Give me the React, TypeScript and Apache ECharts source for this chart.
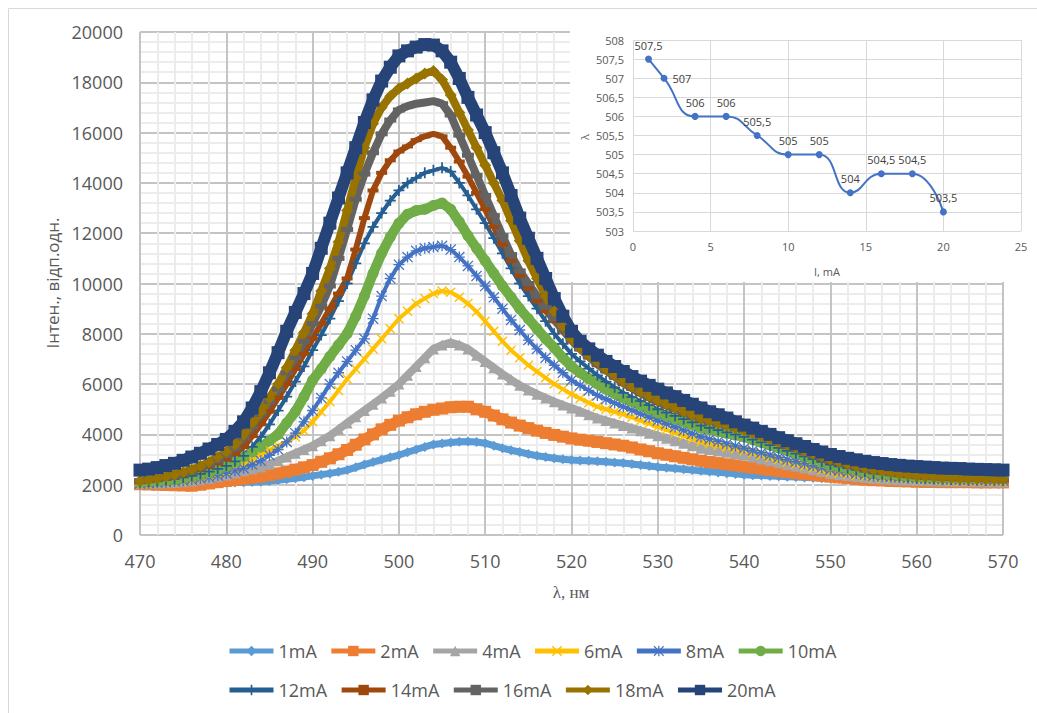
import React, { useEffect, useRef } from "react";
import * as echarts from "echarts";

const wavelengths = [
  470, 471, 472, 473, 474, 475, 476, 477, 478, 479, 480, 481, 482, 483, 484, 485, 486, 487, 488, 489,
  490, 491, 492, 493, 494, 495, 496, 497, 498, 499, 500, 501, 502, 503, 504, 505, 506, 507, 508, 509,
  510, 511, 512, 513, 514, 515, 516, 517, 518, 519, 520, 521, 522, 523, 524, 525, 526, 527, 528, 529,
  530, 531, 532, 533, 534, 535, 536, 537, 538, 539, 540, 541, 542, 543, 544, 545, 546, 547, 548, 549,
  550, 551, 552, 553, 554, 555, 556, 557, 558, 559, 560, 561, 562, 563, 564, 565, 566, 567, 568, 569, 570,
];

const i1mA = [
  2000, 2000, 2000, 2000, 2010, 2020, 2030, 2040, 2050, 2060, 2080, 2090, 2100, 2110, 2120, 2150, 2180, 2220, 2260, 2300,
  2350, 2400, 2450, 2510, 2580, 2690, 2800, 2900, 3000, 3090, 3180, 3290, 3400, 3500, 3600, 3640, 3680, 3710, 3720, 3700,
  3650, 3550, 3450, 3370, 3300, 3220, 3150, 3100, 3050, 3010, 2980, 2960, 2950, 2930, 2910, 2880, 2860, 2820, 2780, 2740,
  2700, 2670, 2640, 2610, 2580, 2550, 2520, 2490, 2460, 2430, 2400, 2380, 2370, 2350, 2340, 2320, 2310, 2290, 2280, 2260,
  2250, 2230, 2210, 2190, 2170, 2150, 2140, 2130, 2120, 2110, 2100, 2090, 2090, 2080, 2080, 2070, 2060, 2060, 2050, 2050, 2050,
];
const i2mA = [
  2020, 2010, 2000, 1990, 1980, 1970, 1960, 2000, 2050, 2100, 2150, 2190, 2230, 2280, 2320, 2380, 2450, 2520, 2600, 2690,
  2780, 2910, 3050, 3210, 3380, 3590, 3800, 4000, 4200, 4380, 4550, 4680, 4800, 4900, 4980, 5030, 5080, 5100, 5100, 5000,
  4900, 4750, 4600, 4470, 4350, 4250, 4150, 4060, 3980, 3910, 3840, 3790, 3750, 3700, 3650, 3600, 3550, 3480, 3400, 3330,
  3250, 3190, 3130, 3070, 3010, 2950, 2900, 2860, 2810, 2770, 2720, 2680, 2630, 2590, 2540, 2500, 2460, 2430, 2390, 2360,
  2320, 2290, 2260, 2230, 2200, 2180, 2170, 2150, 2140, 2130, 2120, 2110, 2110, 2100, 2100, 2100, 2100, 2090, 2090, 2090, 2090,
];
const i4mA = [
  2050, 2055, 2060, 2075, 2090, 2120, 2150, 2200, 2250, 2320, 2390, 2470, 2550, 2620, 2700, 2820, 2950, 3100, 3250, 3400,
  3550, 3750, 3950, 4200, 4450, 4700, 4950, 5200, 5450, 5720, 6000, 6350, 6700, 7050, 7400, 7550, 7650, 7550, 7400, 7150,
  6900, 6650, 6400, 6170, 5950, 5770, 5600, 5450, 5300, 5170, 5050, 4920, 4780, 4650, 4550, 4450, 4350, 4250, 4150, 4050,
  3950, 3850, 3750, 3650, 3550, 3450, 3400, 3340, 3290, 3230, 3180, 3100, 3020, 2950, 2870, 2800, 2730, 2660, 2590, 2520,
  2450, 2410, 2370, 2330, 2290, 2250, 2230, 2210, 2190, 2180, 2170, 2160, 2150, 2140, 2140, 2130, 2130, 2120, 2120, 2110, 2110,
];
const i6mA = [
  2050, 2060, 2070, 2080, 2100, 2140, 2180, 2240, 2320, 2410, 2520, 2650, 2800, 3000, 3200, 3380, 3550, 3720, 3900, 4150,
  4500, 4900, 5300, 5750, 6200, 6600, 7000, 7400, 7800, 8200, 8600, 8900, 9200, 9400, 9600, 9700, 9650, 9450, 9200, 8880,
  8500, 8100, 7700, 7350, 7050, 6750, 6500, 6250, 6000, 5800, 5600, 5430, 5260, 5100, 5000, 4900, 4800, 4680, 4550, 4430,
  4300, 4180, 4060, 3940, 3820, 3700, 3630, 3560, 3490, 3420, 3350, 3260, 3170, 3080, 2990, 2900, 2820, 2740, 2660, 2580,
  2500, 2460, 2420, 2380, 2340, 2300, 2280, 2260, 2240, 2220, 2200, 2190, 2180, 2170, 2160, 2150, 2150, 2140, 2140, 2130, 2130,
];
const i8mA = [
  2050, 2060, 2080, 2100, 2130, 2160, 2200, 2250, 2300, 2370, 2450, 2550, 2650, 2800, 2950, 3170, 3400, 3700, 4050, 4500,
  4950, 5450, 6000, 6450, 6900, 7350, 7800, 8600, 9500, 10200, 10750, 11050, 11300, 11400, 11450, 11500, 11350, 11050, 10700, 10300,
  9900, 9450, 9000, 8550, 8150, 7750, 7400, 7050, 6750, 6450, 6150, 5950, 5750, 5550, 5400, 5250, 5100, 4960, 4820, 4680,
  4550, 4420, 4290, 4160, 4030, 3900, 3810, 3720, 3630, 3540, 3450, 3360, 3270, 3180, 3090, 3000, 2920, 2840, 2760, 2680,
  2600, 2550, 2500, 2450, 2400, 2350, 2330, 2310, 2290, 2270, 2250, 2240, 2230, 2220, 2210, 2200, 2190, 2190, 2180, 2180, 2170,
];
const i10mA = [
  2100, 2110, 2130, 2160, 2200, 2250, 2320, 2390, 2480, 2590, 2720, 2900, 3100, 3300, 3500, 3750, 4000, 4450, 4900, 5500,
  6150, 6600, 7100, 7550, 8000, 8700, 9500, 10400, 11200, 11850, 12400, 12750, 12900, 12950, 13100, 13200, 12950, 12450, 11900, 11400,
  10900, 10400, 9900, 9450, 9000, 8600, 8200, 7800, 7450, 7050, 6700, 6450, 6220, 6000, 5800, 5620, 5450, 5300, 5150, 5000,
  4850, 4730, 4610, 4490, 4370, 4250, 4180, 4110, 4040, 3970, 3900, 3790, 3680, 3570, 3460, 3350, 3230, 3110, 2990, 2870,
  2750, 2690, 2630, 2570, 2510, 2450, 2420, 2390, 2360, 2330, 2300, 2290, 2280, 2270, 2260, 2250, 2250, 2250, 2250, 2250, 2250,
];
const i12mA = [
  2100, 2120, 2150, 2190, 2230, 2290, 2350, 2430, 2520, 2630, 2750, 2930, 3150, 3500, 3900, 4400, 4950, 5500, 6100, 6700,
  7350, 7950, 8600, 9300, 10000, 10800, 11600, 12250, 12800, 13300, 13700, 14000, 14200, 14400, 14500, 14600, 14450, 14000, 13500, 12950,
  12400, 11800, 11200, 10600, 10000, 9500, 9000, 8500, 8000, 7600, 7200, 6900, 6620, 6350, 6100, 5870, 5650, 5480, 5320, 5160,
  5000, 4870, 4740, 4610, 4480, 4350, 4260, 4170, 4080, 3990, 3900, 3790, 3680, 3570, 3460, 3350, 3240, 3130, 3020, 2910,
  2800, 2730, 2660, 2590, 2520, 2450, 2420, 2380, 2350, 2310, 2280, 2260, 2240, 2230, 2210, 2200, 2190, 2190, 2180, 2180, 2170,
];
const i14mA = [
  2100, 2140, 2180, 2240, 2300, 2380, 2480, 2580, 2700, 2840, 3000, 3230, 3500, 3930, 4400, 4900, 5450, 6000, 6600, 7200,
  7800, 8400, 9000, 9600, 10200, 11350, 12600, 13700, 14400, 14900, 15250, 15450, 15700, 15850, 15950, 15850, 15400, 14850, 14250, 13600,
  12950, 12250, 11550, 10900, 10300, 9800, 9300, 8900, 8500, 8100, 7700, 7380, 7050, 6750, 6500, 6250, 6000, 5800, 5600, 5420,
  5250, 5110, 4970, 4830, 4690, 4550, 4470, 4390, 4310, 4230, 4150, 4020, 3890, 3760, 3630, 3500, 3380, 3260, 3140, 3020,
  2900, 2820, 2740, 2660, 2580, 2500, 2460, 2420, 2380, 2340, 2300, 2280, 2270, 2250, 2240, 2220, 2210, 2200, 2190, 2190, 2180,
];
const i16mA = [
  2150, 2180, 2220, 2280, 2350, 2430, 2520, 2640, 2780, 2950, 3150, 3450, 3850, 4300, 4800, 5300, 5800, 6450, 7050, 7700,
  8400, 9100, 9900, 11000, 12150, 13350, 14350, 15200, 15950, 16500, 16900, 17050, 17150, 17200, 17250, 17150, 16700, 15900, 15100, 14300,
  13500, 12700, 11900, 11150, 10500, 10000, 9500, 9050, 8600, 8150, 7750, 7400, 7100, 6800, 6550, 6300, 6050, 5850, 5650, 5470,
  5300, 5160, 5020, 4880, 4740, 4600, 4510, 4420, 4330, 4240, 4150, 4030, 3910, 3790, 3670, 3550, 3430, 3310, 3190, 3070,
  2950, 2860, 2780, 2700, 2620, 2550, 2490, 2440, 2400, 2360, 2320, 2300, 2280, 2260, 2240, 2230, 2220, 2210, 2200, 2190, 2180,
];
const i18mA = [
  2150, 2190, 2250, 2320, 2400, 2500, 2600, 2750, 2900, 3100, 3300, 3600, 4000, 4450, 4900, 5450, 6000, 6650, 7350, 8050,
  8800, 9700, 10600, 11650, 12900, 14200, 15400, 16350, 17000, 17450, 17750, 17950, 18150, 18350, 18450, 18100, 17500, 16800, 16100, 15400,
  14700, 14000, 13300, 12500, 11700, 10900, 10200, 9500, 8900, 8300, 7800, 7450, 7150, 6900, 6600, 6350, 6100, 5900, 5700, 5520,
  5350, 5200, 5060, 4920, 4780, 4650, 4550, 4450, 4350, 4250, 4150, 4050, 3930, 3820, 3700, 3600, 3480, 3350, 3230, 3120,
  3000, 2900, 2820, 2740, 2670, 2600, 2540, 2490, 2440, 2400, 2350, 2330, 2310, 2290, 2270, 2250, 2240, 2230, 2220, 2210, 2200,
];
const i20mA = [
  2580, 2620, 2680, 2760, 2850, 2970, 3100, 3250, 3420, 3600, 3800, 4120, 4500, 5050, 5700, 6450, 7250, 8100, 8850, 9600,
  10400, 11400, 12400, 13400, 14400, 15400, 16400, 17300, 18050, 18600, 19050, 19250, 19400, 19500, 19480, 19250, 18800, 18150, 17400, 16700,
  16000, 15200, 14400, 13500, 12600, 11800, 11000, 10200, 9400, 8700, 8100, 7700, 7400, 7150, 6900, 6700, 6500, 6300, 6120, 5950,
  5800, 5650, 5500, 5350, 5200, 5050, 4900, 4780, 4650, 4500, 4370, 4250, 4120, 4000, 3870, 3750, 3630, 3520, 3400, 3300,
  3200, 3120, 3050, 2990, 2930, 2880, 2840, 2800, 2770, 2740, 2720, 2700, 2680, 2660, 2650, 2640, 2620, 2610, 2600, 2590, 2580,
];

const seriesNames = ["1mA", "2mA", "4mA", "6mA", "8mA", "10mA", "12mA", "14mA", "16mA", "18mA", "20mA"];
const seriesValues = [i1mA, i2mA, i4mA, i6mA, i8mA, i10mA, i12mA, i14mA, i16mA, i18mA, i20mA];
const seriesColors = [
  "#5B9BD5", "#ED7D31", "#A5A5A5", "#FFC000", "#4472C4", "#70AD47",
  "#255E91", "#9E480E", "#636363", "#997300", "#264478",
];

const insetCurrent = [1, 2, 4, 6, 8, 10, 12, 14, 16, 18, 20];
const insetPeak = [507.5, 507, 506, 506, 505.5, 505, 505, 504, 504.5, 504.5, 503.5];

const X_PATH = "path://M0,1L1,0L5,4L9,0L10,1L6,5L10,9L9,10L5,6L1,10L0,9L4,5Z";
const PLUS_PATH = "path://M4.2,0H5.8V4.2H10V5.8H5.8V10H4.2V5.8H0V4.2H4.2Z";
const STAR_PATH =
  "path://M4.4,0H5.6V4.4H10V5.6H5.6V10H4.4V5.6H0V4.4H4.4Z M0.8,0L5,4.2L9.2,0L10,0.8L5.8,5L10,9.2L9.2,10L5,5.8L0.8,10L0,9.2L4.2,5L0,0.8Z";
const DASH_PATH = "path://M0,0H10V3H0Z";

const markerStyles: any[] = [
  { symbol: "diamond", size: 10, lw: 7 },
  { symbol: "rect", size: 12, lw: 11 },
  { symbol: "triangle", size: 11, lw: 8 },
  { symbol: X_PATH, size: 10, lw: 4 },
  { symbol: STAR_PATH, size: 11, lw: 4 },
  { symbol: "circle", size: 11, lw: 10 },
  { symbol: PLUS_PATH, size: 11, lw: 4 },
  { symbol: DASH_PATH, size: [11, 4], lw: 6 },
  { symbol: DASH_PATH, size: [12, 5], lw: 8 },
  { symbol: "diamond", size: 12, lw: 8 },
  { symbol: "rect", size: 13, lw: 12 },
];

const FONT = "Open Sans";
const comma = (v: number) => String(v).replace(".", ",");

export default function App() {
  const ref = useRef<HTMLDivElement>(null);
  useEffect(() => {
    if (!ref.current) return;
    const chart = echarts.init(ref.current, undefined, { renderer: "svg" });

    const mainSeries = seriesNames.map((name, k) => ({
      name,
      type: "line",
      xAxisIndex: 0,
      yAxisIndex: 0,
      data: wavelengths.map((w, i) => [w, seriesValues[k][i]]),
      symbol: markerStyles[k].symbol,
      symbolSize: markerStyles[k].size,
      showSymbol: true,
      lineStyle: { color: seriesColors[k], width: markerStyles[k].lw },
      itemStyle: { color: seriesColors[k], borderWidth: 0 },
      emphasis: { disabled: true },
      silent: true,
      z: 2,
    }));

    const legendCommon = {
      left: 222,
      itemWidth: 44,
      itemHeight: 13,
      itemGap: 12,
      textStyle: { fontSize: 18, color: "#595959", fontFamily: FONT },
      lineStyle: { width: 5 },
      selectedMode: false,
    };

    chart.setOption({
      animation: false,
      backgroundColor: "#ffffff",
      textStyle: { fontFamily: FONT },
      grid: [
        { left: 140, top: 32, width: 863, height: 503 },
        { left: 633, top: 40, width: 388, height: 191 },
      ],
      xAxis: [
        {
          type: "value",
          gridIndex: 0,
          min: 470,
          max: 570,
          interval: 10,
          axisLine: { show: false },
          axisTick: { show: false },
          axisLabel: {
            fontSize: 18,
            color: "#595959",
            margin: 17,
            fontFamily: FONT,
            formatter: (v: number) => String(v),
          },
          splitLine: { show: true, lineStyle: { color: "#c4c4c4", width: 2 } },
          minorTick: { show: false, splitNumber: 5 },
          minorSplitLine: { show: true, lineStyle: { color: "#ececec", width: 2 } },
        },
        {
          type: "value",
          gridIndex: 1,
          min: 0,
          max: 25,
          interval: 5,
          axisLine: { show: false },
          axisTick: { show: false },
          axisLabel: { fontSize: 11, color: "#595959", margin: 10, fontFamily: FONT },
          splitLine: { show: true, lineStyle: { color: "#d9d9d9", width: 1 } },
          z: 6,
        },
      ],
      yAxis: [
        {
          type: "value",
          gridIndex: 0,
          min: 0,
          max: 20000,
          interval: 2000,
          axisLine: { show: false },
          axisTick: { show: false },
          axisLabel: {
            fontSize: 18,
            color: "#595959",
            margin: 17,
            fontFamily: FONT,
            formatter: (v: number) => String(v),
          },
          splitLine: { show: true, lineStyle: { color: "#c4c4c4", width: 2 } },
          minorTick: { show: false, splitNumber: 5 },
          minorSplitLine: { show: true, lineStyle: { color: "#ececec", width: 2 } },
        },
        {
          type: "value",
          gridIndex: 1,
          min: 503,
          max: 508,
          interval: 0.5,
          axisLine: { show: false },
          axisTick: { show: false },
          axisLabel: {
            fontSize: 11,
            color: "#595959",
            margin: 9,
            fontFamily: FONT,
            formatter: (v: number) => comma(v),
          },
          splitLine: { show: true, lineStyle: { color: "#d9d9d9", width: 1 } },
          z: 6,
        },
      ],
      legend: [
        { ...legendCommon, top: 637, data: seriesNames.slice(0, 6) },
        { ...legendCommon, top: 676, data: seriesNames.slice(6) },
      ],
      graphic: [
        {
          type: "rect",
          shape: { x: 8.5, y: 8.5, width: 1100, height: 800 },
          style: { fill: "none", stroke: "#d9d9d9", lineWidth: 1 },
          z: 0,
          silent: true,
        },
        {
          type: "rect",
          shape: { x: 570, y: 20, width: 466, height: 262 },
          style: { fill: "#ffffff" },
          z: 5,
          silent: true,
        },
        {
          type: "text",
          x: 52,
          y: 283,
          rotation: Math.PI / 2,
          style: {
            text: "Інтен., відп.одн.",
            fontSize: 17,
            fontFamily: FONT,
            fill: "#595959",
            align: "center",
            verticalAlign: "middle",
          },
          z: 6,
        },
        {
          type: "text",
          x: 571,
          y: 592,
          style: {
            text: "λ, нм",
            fontSize: 17,
            fontFamily: "Liberation Serif",
            fill: "#595959",
            align: "center",
            verticalAlign: "middle",
          },
          z: 6,
        },
        {
          type: "text",
          x: 827,
          y: 271,
          style: {
            text: "I, mA",
            fontSize: 11,
            fontFamily: FONT,
            fill: "#595959",
            align: "center",
            verticalAlign: "middle",
          },
          z: 7,
        },
        {
          type: "text",
          x: 584,
          y: 137,
          rotation: Math.PI / 2,
          style: {
            text: "λ",
            fontSize: 11,
            fontFamily: FONT,
            fill: "#595959",
            align: "center",
            verticalAlign: "middle",
          },
          z: 7,
        },
      ],
      series: [
        ...mainSeries,
        {
          name: "inset",
          type: "line",
          xAxisIndex: 1,
          yAxisIndex: 1,
          smooth: 0.5,
          data: insetCurrent.map((c, i) => ({
            value: [c, insetPeak[i]],
            label: { position: i === 1 ? "right" : "top" },
          })),
          symbol: "circle",
          symbolSize: 7,
          lineStyle: { color: "#4472C4", width: 2 },
          itemStyle: { color: "#4472C4" },
          label: {
            show: true,
            fontSize: 11,
            color: "#404040",
            fontFamily: FONT,
            formatter: (p: any) => comma(p.value[1]),
          },
          emphasis: { disabled: true },
          silent: true,
          z: 8,
        },
      ],
    });

    return () => chart.dispose();
  }, []);

  return (
    <div
      ref={ref}
      style={{ position: "absolute", left: 0, top: 0, width: 1037, height: 713, background: "#fff" }}
    />
  );
}
